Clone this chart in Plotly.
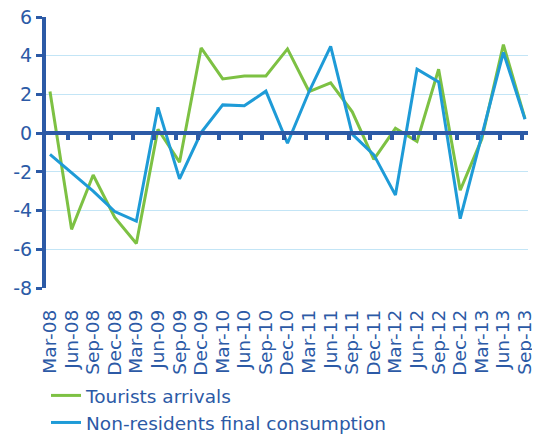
import plotly.graph_objects as go

categories = ["Mar-08", "Jun-08", "Sep-08", "Dec-08", "Mar-09", "Jun-09", "Sep-09", "Dec-09",
              "Mar-10", "Jun-10", "Sep-10", "Dec-10", "Mar-11", "Jun-11", "Sep-11", "Dec-11",
              "Mar-12", "Jun-12", "Sep-12", "Dec-12", "Mar-13", "Jun-13", "Sep-13"]
tourists = [2.15, -4.97, -2.16, -4.35, -5.7, 0.2, -1.5, 4.4, 2.8, 2.95, 2.95, 4.35,
            2.15, 2.6, 1.1, -1.35, 0.25, -0.43, 3.3, -2.95, -0.3, 4.57, 0.75]
nonres = [-1.1, -2.05, -3.0, -4.05, -4.55, 1.33, -2.36, 0.03, 1.46, 1.41, 2.17, -0.52,
          2.15, 4.48, -0.05, -1.12, -3.2, 3.3, 2.65, -4.42, -0.15, 4.17, 0.72]
y_ticks = [6, 4, 2, 0, -2, -4, -6, -8]
y_ticktext = [str(v) for v in y_ticks]

DARK = "#2C5AA6"
GREEN = "#7DC143"
BLUE = "#1E9BD7"
GRID = "#C3E5F6"
FONT = "DejaVu Sans"

idx = list(range(len(categories)))
xr = [-0.185, len(categories) - 1 + 0.14]

fig = go.Figure()
fig.add_trace(go.Scatter(x=idx, y=tourists, mode="lines", name="Tourists arrivals",
                         line=dict(color=GREEN, width=3)))
fig.add_trace(go.Scatter(x=idx, y=nonres, mode="lines", name="Non-residents final consumption",
                         line=dict(color=BLUE, width=3)))
fig.add_trace(go.Scatter(x=[None], y=[None], xaxis="x2", showlegend=False, hoverinfo="skip"))

fig.update_layout(
    width=532, height=426,
    margin=dict(l=38, r=12, t=9, b=146, autoexpand=False),
    paper_bgcolor="white", plot_bgcolor="white",
    font=dict(family=FONT, color=DARK),
    showlegend=True,
    legend=dict(x=0.0, xanchor="left", y=-0.328, yanchor="top",
                font=dict(size=18.5, family=FONT, color=DARK),
                itemwidth=30, tracegroupgap=0, bgcolor="rgba(0,0,0,0)"),
    xaxis=dict(range=xr, tickmode="array", tickvals=idx, ticktext=categories,
               tickangle=-90, tickfont=dict(size=18.5, family=FONT, color=DARK),
               showgrid=False, zeroline=False, showline=False, ticks="",
               ticklabelstandoff=17, automargin=False),
    xaxis2=dict(range=xr, overlaying="x", anchor="free", position=8 / 14, side="bottom",
                showline=True, linecolor=DARK, linewidth=4,
                tickmode="array", tickvals=[i - 0.16 for i in idx[1:]],
                ticks="outside", ticklen=5, tickwidth=3.5, tickcolor=DARK,
                showticklabels=False, showgrid=False, zeroline=False, automargin=False),
    yaxis=dict(range=[-8, 6], tickmode="array", tickvals=y_ticks, ticktext=y_ticktext,
               tickfont=dict(size=19, family=FONT, color=DARK),
               showgrid=True, gridcolor=GRID, gridwidth=1.2,
               zeroline=False, showline=True, linecolor=DARK, linewidth=4,
               ticks="outside", ticklen=6, tickwidth=3, tickcolor=DARK,
               automargin=False, ticklabeloverflow="allow"),
)

fig.write_html("out.html")
